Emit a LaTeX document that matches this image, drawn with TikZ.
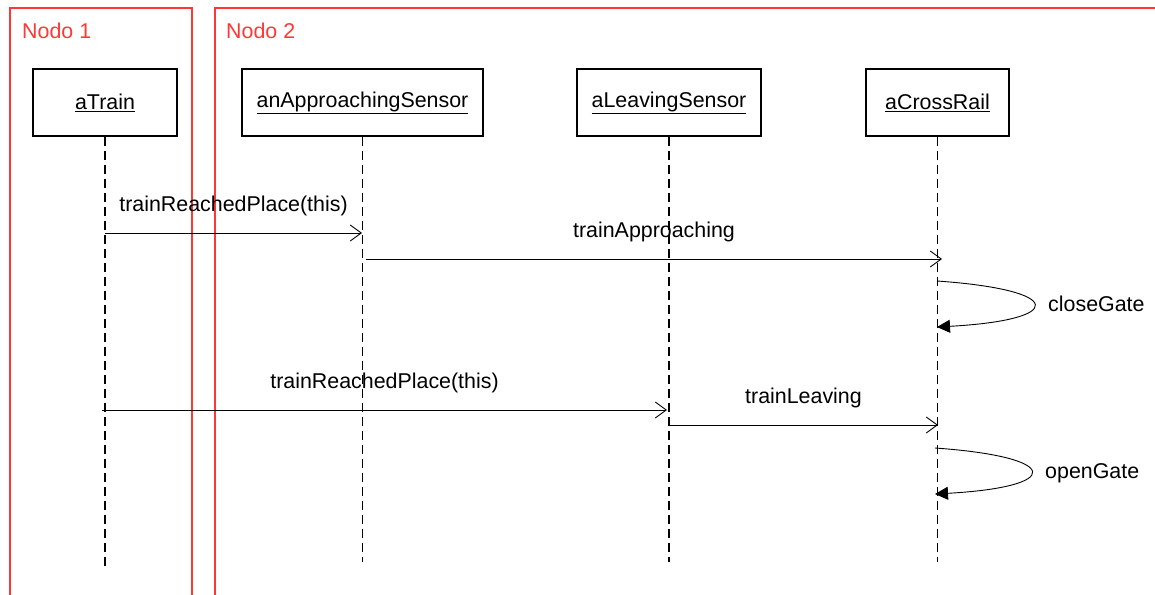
\documentclass[tikz,border=0pt]{standalone}
\usepackage{fontspec}
\setmainfont{Liberation Sans}
\usetikzlibrary{arrows.meta}
\definecolor{framered}{RGB}{255,55,55}
\begin{document}
\begin{tikzpicture}[x=1pt,y=-1pt,
  every node/.style={font=\fontsize{21.4}{25}\selectfont},
  objbox/.style={draw,line width=1.3pt,minimum height=67pt,inner sep=0pt},
  lifeline/.style={line width=1.1pt,dash pattern=on 9pt off 5pt},
  msg/.style={line width=0.9pt,-{Straight Barb[length=11pt,width=16pt,line width=0.9pt]}},
  selfmsg/.style={line width=0.9pt,-{Triangle[length=13pt,width=13pt]}},
  msglabel/.style={midway,anchor=base,yshift=22pt,inner sep=0pt},
  deploy/.style={draw=framered,line width=1.2pt},
  deploylabel/.style={text=framered,anchor=base west,inner sep=0pt}]
\clip (0,0) rectangle (1155,594);

% deployment nodes
\draw[deploy] (10,620) -- (10,8) -- (192,8) -- (192,620);
\draw[deploy] (215,620) -- (215,8) -- (1175,8);
\node[deploylabel] (nodo1) at (22,38) {Nodo 1};
\node[deploylabel] (nodo2) at (226,38) {Nodo 2};

% objects
\node[objbox,minimum width=144pt] (train)    at (105,102.5)   {\underline{aTrain}};
\node[objbox,minimum width=241pt] (approach) at (362.5,102.5) {\underline{anApproachingSensor}};
\node[objbox,minimum width=184pt] (leaving)  at (669,102.5)   {\underline{aLeavingSensor}};
\node[objbox,minimum width=143pt] (cross)    at (937.5,102.5) {\underline{aCrossRail}};

% lifelines
\coordinate (trainEnd)    at (105,569);
\coordinate (approachEnd) at (362.5,562);
\coordinate (leavingEnd)  at (669,562);
\coordinate (crossEnd)    at (937.5,562);
\draw[lifeline] (train.south)    -- (trainEnd);
\draw[lifeline] (approach.south) -- (approachEnd);
\draw[lifeline] (leaving.south)  -- (leavingEnd);
\draw[lifeline] (cross.south)    -- (crossEnd);

% message levels
\coordinate (m1) at (0,233);
\coordinate (m2) at (0,259);
\coordinate (m3) at (0,410);
\coordinate (m4) at (0,425);

\draw[msg] (train |- m1) -- ([xshift=-0.5pt]approach |- m1)
  node[msglabel] (l1) {trainReachedPlace(this)};
\draw[msg] ([xshift=3.5pt]approach |- m2) -- ([xshift=4.5pt]cross |- m2)
  node[msglabel] (l2) {trainApproaching};
\draw[msg] ([xshift=-3pt]train |- m3) -- ([xshift=-2pt]leaving |- m3)
  node[msglabel] (l3) {trainReachedPlace(this)};
\draw[msg] (leaving |- m4) -- ([xshift=0.5pt]cross |- m4)
  node[msglabel] (l4) {trainLeaving};

% self messages on the crossing rail
\coordinate (c1s) at (937,281);
\coordinate (c1e) at (937,327);
\coordinate (c2s) at (935,448);
\coordinate (c2e) at (935,494);
\draw[selfmsg] (c1s) .. controls (1066,290) and (1066,320) .. (c1e);
\draw[selfmsg] (c2s) .. controls (1063,457) and (1063,487) .. (c2e);
\node[anchor=base west,inner sep=0pt] (close) at (1048,311) {closeGate};
\node[anchor=base west,inner sep=0pt] (open)  at (1045,478) {openGate};
\end{tikzpicture}
\end{document}
